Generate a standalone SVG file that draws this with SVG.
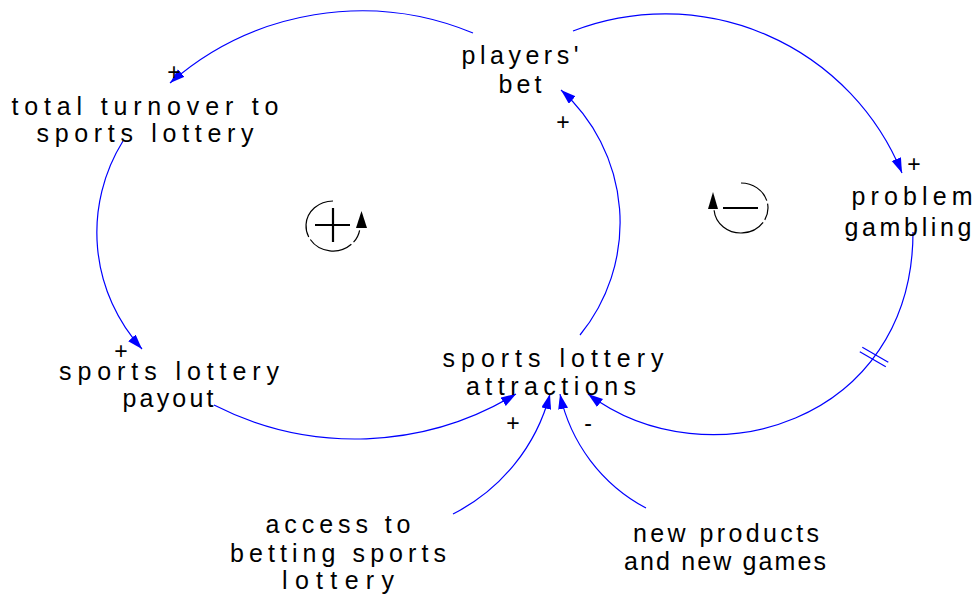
<svg xmlns="http://www.w3.org/2000/svg" width="975" height="597" viewBox="0 0 975 597">
  <style>
    .lbl { font-family: "Liberation Sans", Arial, sans-serif; font-size: 25px; fill: #000; text-anchor: middle; }
    .sign { font-family: "Liberation Sans", Arial, sans-serif; font-size: 23px; fill: #000; text-anchor: middle; }
    .link { fill: none; stroke: #0000ff; stroke-width: 1.2; marker-end: url(#ah); }
    .delay { stroke: #0000ff; stroke-width: 1.2; }
    .loop { fill: none; stroke: #000; stroke-width: 1.2; }
    .loopsign { stroke: #000; stroke-width: 2.2; }
  </style>
  <defs>
    <marker id="ah" markerUnits="userSpaceOnUse" markerWidth="16" markerHeight="11" refX="15" refY="5" orient="auto">
      <path d="M0,0 L15,5 L0,10 z" fill="#0000ff"/>
    </marker>
  </defs>
  <rect width="975" height="597" fill="#fff"/>

  <!-- causal links -->
  <g id="connectors">
    <path class="link" d="M473,33 A291,291 0 0 0 170,83"/>
    <path class="link" d="M123,141 A173,173 0 0 0 142,349"/>
    <path class="link" d="M214,405 A310,310 0 0 0 516,394"/>
    <path class="link" d="M580,335 A178,178 0 0 0 561,90"/>
    <path class="link" d="M573,31 A256,256 0 0 1 902,173"/>
    <path class="link" d="M913,232 C913,422 708,484 588,394"/>
    <path class="link" d="M453,514 A187.5,187.5 0 0 0 550,394"/>
    <path class="link" d="M646,508 A168.8,168.8 0 0 1 560,394"/>
    <!-- delay mark -->
    <line class="delay" x1="859.8" y1="351.7" x2="885.8" y2="366.7"/>
    <line class="delay" x1="862.3" y1="347.3" x2="888.3" y2="362.3"/>
    <!-- link polarities -->
    <text class="sign" x="174" y="80">+</text>
    <text class="sign" x="563" y="130">+</text>
    <text class="sign" x="914" y="172">+</text>
    <text class="sign" x="121" y="359">+</text>
    <text class="sign" x="513" y="431">+</text>
    <text class="sign" x="588" y="431">-</text>
  </g>

  <!-- loop identifiers -->
  <g id="loop-reinforcing">
    <path class="loop" d="M333,201 A27,25 0 1 0 359.6,230.3" stroke-dasharray="52 3 46 3 200"/>
    <polygon points="356,228 367,228 361.5,211" fill="#000"/>
    <line class="loopsign" x1="315" y1="225" x2="350" y2="225"/>
    <line class="loopsign" x1="333" y1="208" x2="333" y2="242"/>
  </g>
  <g id="loop-balancing">
    <path class="loop" d="M741,183 A27,25 0 1 1 714.1,210.2" stroke-dasharray="33 3 17 3 200"/>
    <polygon points="708,209 718,209 713,192" fill="#000"/>
    <line class="loopsign" x1="723" y1="208" x2="758" y2="208"/>
  </g>

  <!-- variables -->
  <g id="players-bet">
    <text class="lbl" x="520" y="64" textLength="117" lengthAdjust="spacing">players'</text>
    <text class="lbl" x="520" y="93" textLength="43" lengthAdjust="spacing">bet</text>
  </g>
  <g id="total-turnover">
    <text class="lbl" x="145" y="115" textLength="267" lengthAdjust="spacing">total turnover to</text>
    <text class="lbl" x="145" y="142" textLength="217" lengthAdjust="spacing">sports lottery</text>
  </g>
  <g id="payout">
    <text class="lbl" x="169" y="380" textLength="220" lengthAdjust="spacing">sports lottery</text>
    <text class="lbl" x="168" y="407" textLength="91" lengthAdjust="spacing">payout</text>
  </g>
  <g id="attractions">
    <text class="lbl" x="553" y="367" textLength="221" lengthAdjust="spacing">sports lottery</text>
    <text class="lbl" x="551" y="395" textLength="170" lengthAdjust="spacing">attractions</text>
  </g>
  <g id="problem-gambling">
    <text class="lbl" x="912" y="205" textLength="121" lengthAdjust="spacing">problem</text>
    <text class="lbl" x="908" y="236" textLength="127" lengthAdjust="spacing">gambling</text>
  </g>
  <g id="access">
    <text class="lbl" x="338" y="533" textLength="145" lengthAdjust="spacing">access to</text>
    <text class="lbl" x="338" y="562" textLength="216" lengthAdjust="spacing">betting sports</text>
    <text class="lbl" x="338" y="589" textLength="112" lengthAdjust="spacing">lottery</text>
  </g>
  <g id="new-products">
    <text class="lbl" x="726" y="542" textLength="186" lengthAdjust="spacing">new products</text>
    <text class="lbl" x="725" y="570" textLength="202" lengthAdjust="spacing">and new games</text>
  </g>
</svg>
